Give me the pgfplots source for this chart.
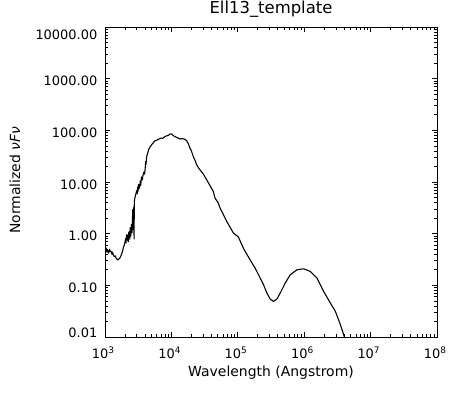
\documentclass[border=0pt]{standalone}
\usepackage{fontspec}
\setmainfont{DejaVu Sans}
\usepackage{pgfplots}
\pgfplotsset{compat=1.18}
\newcommand{\tf}{\fontsize{13}{15}\selectfont}
\newcommand{\sps}{\fontsize{9}{9}\selectfont}
\begin{document}
\begin{tikzpicture}
\useasboundingbox (-105bp,-57bp) rectangle (367bp,337bp);
\begin{axis}[
  at={(0,0)}, anchor=south west,
  scale only axis, width=332bp, height=310bp,
  xmode=log, ymode=log,
  xmin=1e3, xmax=1e8, ymin=1e-2, ymax=1e4,
  xtick={1e3,1e4,1e5,1e6,1e7,1e8},
  xticklabels={{\tf 10\raisebox{5bp}{\sps 3}},{\tf 10\raisebox{5bp}{\sps 4}},{\tf 10\raisebox{5bp}{\sps 5}},{\tf 10\raisebox{5bp}{\sps 6}},{\tf 10\raisebox{5bp}{\sps 7}},{\tf 10\raisebox{5bp}{\sps 8}}},
  minor xtick={2e3,3e3,4e3,5e3,6e3,7e3,8e3,9e3,2e4,3e4,4e4,5e4,6e4,7e4,8e4,9e4,2e5,3e5,4e5,5e5,6e5,7e5,8e5,9e5,2e6,3e6,4e6,5e6,6e6,7e6,8e6,9e6,2e7,3e7,4e7,5e7,6e7,7e7,8e7,9e7},
  ytick={1e-2,1e-1,1e0,1e1,1e2,1e3,1e4},
  yticklabels={{\tf\raisebox{6.5bp}{0.01}},{\tf 0.10},{\tf 1.00},{\tf 10.00},{\tf 100.00},{\tf 1000.00},{\tf\raisebox{-5.3bp}{10000.00}}},
  minor ytick={2e-2,3e-2,4e-2,5e-2,6e-2,7e-2,8e-2,9e-2,2e-1,3e-1,4e-1,5e-1,6e-1,7e-1,8e-1,9e-1,2,3,4,5,6,7,8,9,20,30,40,50,60,70,80,90,200,300,400,500,600,700,800,900,2000,3000,4000,5000,6000,7000,8000,9000},
  tick align=inside,
  major tick length=5bp, minor tick length=2.7bp,
  tick style={black, line width=0.7pt},
  axis line style={line width=0.9pt},
  xticklabel style={anchor=base, yshift=-21bp, xshift=-2bp, inner sep=0pt, font=\tf},
  yticklabel style={anchor=base east, yshift=-7.1bp, xshift=-7.5bp, inner sep=0pt, font=\tf},
  title={\fontsize{16.5}{18}\selectfont Ell13\_template},
  title style={at={(axis description cs:0.5,1)}, anchor=base, yshift=7.7bp, inner sep=0pt, font=\fontsize{16.5}{18}\selectfont},
  xlabel={\fontsize{14}{16}\selectfont Wavelength (Angstrom)},
  xlabel style={at={(axis description cs:0.5,0)}, anchor=base, yshift=-39.5bp, inner sep=0pt},
  ylabel={\fontsize{14}{16}\selectfont Normalized \textit{νFν}},
  ylabel style={at={(axis description cs:-0.256,0.506)}, anchor=base, inner sep=0pt, font=\fontsize{14}{16}\selectfont},
]
\addplot[black, line width=1.1pt, line join=round] coordinates {
(1000,0.50) (1040,0.53) (1070,0.44) (1100,0.47) (1130,0.42) (1170,0.50) (1200,0.45) (1232,0.46)
(1270,0.40) (1300,0.44) (1340,0.38) (1387,0.36) (1430,0.37) (1480,0.33) (1520,0.32) (1556,0.31)
(1600,0.32) (1650,0.33) (1700,0.35) (1745,0.38) (1800,0.42) (1850,0.47) (1897,0.55) (1950,0.60)
(2000,0.68) (2040,0.80) (2075,0.66) (2110,0.95) (2150,0.75) (2203,0.95) (2240,0.70) (2280,1.05)
(2337,1.10) (2370,0.78) (2400,1.30) (2450,0.90) (2500,1.50) (2550,1.05) (2600,2.2) (2618,2.9)
(2660,1.2) (2700,3.2) (2743,0.79) (2760,3.6) (2780,4.5) (2850,5.2) (2939,6.1) (3000,6.8)
(3050,5.9) (3100,8.0) (3150,6.6) (3200,9.0) (3260,7.4) (3342,8.2) (3400,10.5) (3450,8.6)
(3550,12.5) (3650,11.0) (3750,13.8) (3850,15.5) (3950,14.2) (4050,20) (4100,25) (4150,22)
(4217,29) (4300,33) (4463,38.9) (4600,44) (4800,48) (5027,52.5) (5300,57) (5637,62.7)
(6000,64) (6300,67) (6703,68.5) (7000,71) (7400,70) (7975,75.9) (8500,78) (9000,80)
(9485,84.4) (10000,85) (10640,79.3) (11500,75) (12670,70.6) (13500,68) (14200,69) (15070,68.5)
(16000,67) (16970,62.7) (18000,55) (19030,45.3) (20000,40) (21340,31.1) (22500,27) (24020,21.5)
(25500,19.0) (26930,17.2) (30000,14.5) (34020,11.0) (38000,8.6) (42790,6.55) (45400,4.88) (50890,3.91)
(54030,3.13) (60000,2.4) (68240,1.72) (76000,1.35) (85830,1.03) (102200,0.86) (121500,0.52) (153500,0.31)
(182400,0.216) (217300,0.138) (243800,0.103) (274200,0.071) (307600,0.0543) (345100,0.0489) (388200,0.0543) (435500,0.071)
(518100,0.111) (616300,0.160) (778300,0.200) (979300,0.209) (1236000,0.186) (1560000,0.138) (1964000,0.076) (2477000,0.0455)
(2950000,0.0313) (3508000,0.0173) (4035000,0.010) (4300000,0.0080)
};
\end{axis}
\end{tikzpicture}
\end{document}
